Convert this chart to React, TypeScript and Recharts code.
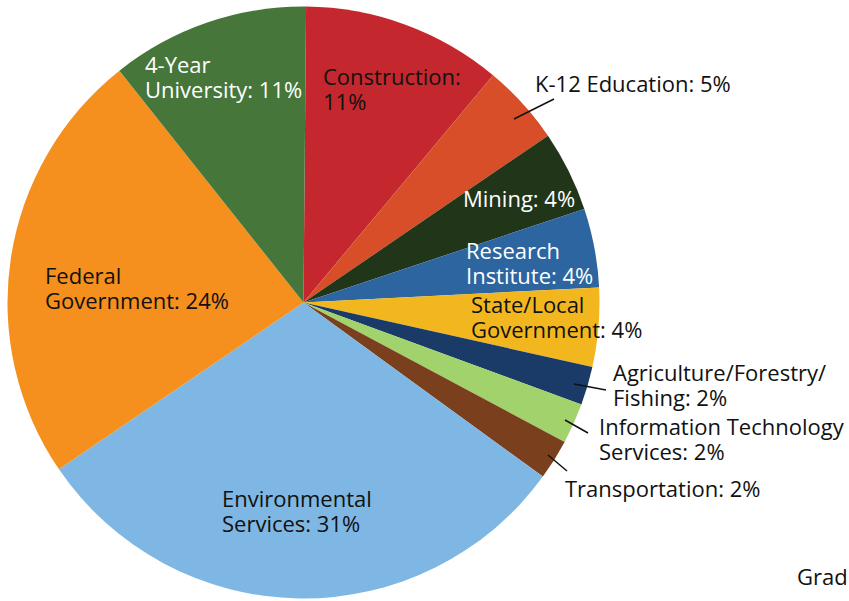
import { PieChart, Pie, Cell } from "recharts";

// share of employers, read clockwise from 12 o'clock
const categories = [
  "Construction",
  "K-12 Education",
  "Mining",
  "Research Institute",
  "State/Local Government",
  "Agriculture/Forestry/Fishing",
  "Information Technology Services",
  "Transportation",
  "Environmental Services",
  "Federal Government",
  "4-Year University",
];
const shares = [10.9, 4.4, 4.4, 4.3, 4.3, 2.1, 2.2, 2.2, 30.4, 23.8, 10.8];
const labelText = [
  ["Construction:", "11%"],
  ["K-12 Education: 5%"],
  ["Mining: 4%"],
  ["Research", "Institute: 4%"],
  ["State/Local", "Government: 4%"],
  ["Agriculture/Forestry/", "Fishing: 2%"],
  ["Information Technology", "Services: 2%"],
  ["Transportation: 2%"],
  ["Environmental", "Services: 31%"],
  ["Federal", "Government: 24%"],
  ["4-Year", "University: 11%"],
];

const colors = [
  "#C4272D",
  "#D84E28",
  "#213519",
  "#2C65A0",
  "#F2B71F",
  "#1A3A68",
  "#A1D26C",
  "#7A401E",
  "#7EB7E3",
  "#F5901F",
  "#46763A",
];

// label placement: offsets from the pie centre (left edge, first baseline)
const labelPos: Record<string, { dx: number; dy: number; fill: string; line?: number[] }> = {
  Construction: { dx: 19.5, dy: -217.5, fill: "#111" },
  "K-12 Education": { dx: 231.5, dy: -210.5, fill: "#111", line: [250.5, -203.5, 210.5, -183.5] },
  Mining: { dx: 159.5, dy: -95.5, fill: "#fff" },
  "Research Institute": { dx: 162.5, dy: -43.5, fill: "#fff" },
  "State/Local Government": { dx: 167.5, dy: 10.5, fill: "#111" },
  "Agriculture/Forestry/Fishing": { dx: 309.5, dy: 78.5, fill: "#111", line: [302.5, 87.5, 270.5, 81.5] },
  "Information Technology Services": { dx: 295.5, dy: 132.5, fill: "#111", line: [284.5, 130.5, 261.5, 117.5] },
  Transportation: { dx: 261.5, dy: 194.5, fill: "#111", line: [263.5, 168.5, 244.5, 152.5] },
  "Environmental Services": { dx: -81.5, dy: 204.5, fill: "#111" },
  "Federal Government": { dx: -258.5, dy: -18.5, fill: "#111" },
  "4-Year University": { dx: -158.5, dy: -229.5, fill: "#fff" },
};

const data = categories.map((name, i) => ({ name, value: shares[i], lines: labelText[i] }));

const FONT = "'Open Sans', sans-serif";
const FONT_SIZE = 22;

function renderLabel(props: any) {
  const { cx, cy, index } = props;
  const item = data[index];
  const pos = labelPos[item.name];
  const x = cx + pos.dx;
  const y = cy + pos.dy;
  return (
    <g key={item.name}>
      {pos.line && (
        <line
          x1={cx + pos.line[0]}
          y1={cy + pos.line[1]}
          x2={cx + pos.line[2]}
          y2={cy + pos.line[3]}
          stroke="#111"
          strokeWidth={1.5}
        />
      )}
      <text x={x} y={y} fill={pos.fill} fontSize={FONT_SIZE} fontFamily={FONT} textAnchor="start">
        {item.lines.map((t: string, i: number) => (
          <tspan key={i} x={x} dy={i === 0 ? 0 : 24.5}>
            {t}
          </tspan>
        ))}
      </text>
    </g>
  );
}

export default function App() {
  return (
    <div
      style={{
        position: "absolute",
        left: 0,
        top: 0,
        width: 849,
        height: 601,
        overflow: "hidden",
        background: "#fff",
      }}
    >
      <PieChart width={849} height={601} margin={{ top: 0, right: 0, bottom: 0, left: 0 }}>
        <Pie
          data={data}
          dataKey="value"
          nameKey="name"
          cx={303.5}
          cy={302.5}
          outerRadius={296}
          startAngle={89.5}
          endAngle={-270.5}
          stroke="none"
          label={renderLabel}
          labelLine={false}
          isAnimationActive={false}
        >
          {data.map((d, i) => (
            <Cell key={d.name} fill={colors[i]} />
          ))}
        </Pie>
      </PieChart>
      {/* partly visible text at the right edge of the source image */}
      <div
        style={{
          position: "absolute",
          left: 797,
          top: 565,
          fontFamily: FONT,
          fontSize: FONT_SIZE,
          lineHeight: `${FONT_SIZE}px`,
          color: "#111",
          whiteSpace: "nowrap",
        }}
      >
        Grad
      </div>
    </div>
  );
}
